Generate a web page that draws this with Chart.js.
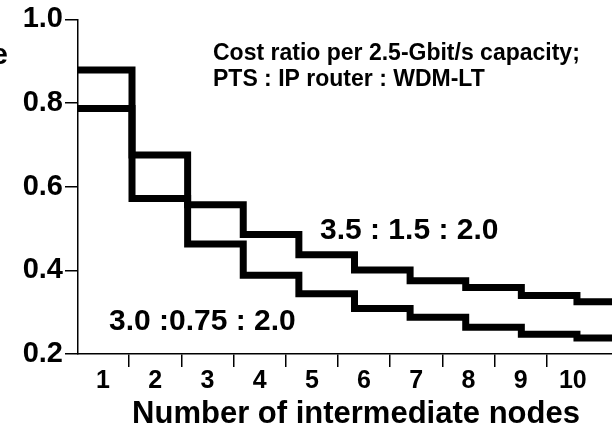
<!DOCTYPE html>
<html>
<head>
<meta charset="utf-8">
<script src="https://cdn.jsdelivr.net/npm/chart.js@4/dist/chart.umd.min.js"></script>
<style>
  html, body { margin: 0; padding: 0; background: #fff; }
  #wrap { width: 612px; height: 428px; overflow: hidden; }
</style>
</head>
<body>
<div id="wrap"><canvas id="c" width="612" height="428"></canvas></div>
<script>
// ---- data ----
const nodes = [1, 2, 3, 4, 5, 6, 7, 8, 9, 10];
const ratioHigh = [0.879, 0.676, 0.557, 0.486, 0.437, 0.401, 0.375, 0.359, 0.340, 0.325]; // 3.5 : 1.5 : 2.0
const ratioLow  = [0.787, 0.572, 0.463, 0.388, 0.344, 0.309, 0.288, 0.264, 0.247, 0.238]; // 3.0 : 0.75 : 2.0
const yTicks = [0.2, 0.4, 0.6, 0.8, 1.0];
const xTitle = 'Number of intermediate nodes';
const noteLines = ['Cost ratio per 2.5-Gbit/s capacity;', 'PTS : IP router : WDM-LT'];
const labelHigh = '3.5 : 1.5 : 2.0';
const labelLow = '3.0 :0.75 : 2.0';
const yTitleTail = 'e';

const FONT = '"Liberation Sans", Arial, Helvetica, sans-serif';

// each step starts at the left edge of its node's interval and holds to the right
function stepPoints(vals) {
  const pts = nodes.map((n, i) => ({ x: n - 0.5, y: vals[i] }));
  const last = nodes[nodes.length - 1];
  pts.push({ x: last + 0.5, y: vals[vals.length - 1] });
  return pts;
}

const textPlugin = {
  id: 'texts',
  afterDraw(chart) {
    const ctx = chart.ctx;
    ctx.save();
    ctx.fillStyle = '#000';
    ctx.textBaseline = 'alphabetic';
    ctx.textAlign = 'left';
    ctx.font = 'bold 23px ' + FONT;
    ctx.fillText(noteLines[0], 213, 60);
    ctx.fillText(noteLines[1], 213, 86);
    ctx.font = 'bold 30px ' + FONT;
    ctx.fillText(labelHigh, 320, 239);
    ctx.fillText(labelLow, 109, 330);
    ctx.textAlign = 'right';
    ctx.fillText(yTitleTail, 8, 64);
    // x-axis title
    ctx.textAlign = 'center';
    ctx.font = 'bold 31px ' + FONT;
    ctx.fillText(xTitle, 356, 423);
    ctx.restore();
  }
};

new Chart(document.getElementById('c'), {
  type: 'line',
  data: {
    datasets: [
      {
        label: labelHigh,
        data: stepPoints(ratioHigh),
        xAxisID: 'xd',
        stepped: 'before',
        borderColor: '#000',
        borderWidth: 7,
        borderCapStyle: 'butt',
        borderJoinStyle: 'miter',
        pointRadius: 0,
        fill: false
      },
      {
        label: labelLow,
        data: stepPoints(ratioLow),
        xAxisID: 'xd',
        stepped: 'before',
        borderColor: '#000',
        borderWidth: 7,
        borderCapStyle: 'butt',
        borderJoinStyle: 'miter',
        pointRadius: 0,
        fill: false
      }
    ]
  },
  options: {
    responsive: false,
    animation: false,
    devicePixelRatio: 1,
    layout: { padding: { top: 16, right: 0, bottom: 0, left: 0 } },
    plugins: { legend: { display: false }, tooltip: { enabled: false } },
    scales: {
      xd: {
        type: 'linear',
        display: false,
        min: 0.529,
        max: 10.13
      },
      x: {
        type: 'linear',
        position: 'bottom',
        min: 0.52,
        max: 10.75,
        afterBuildTicks(scale) {
          const t = [];
          nodes.forEach(n => {
            t.push({ value: n });
            if (n < nodes[nodes.length - 1]) t.push({ value: n + 0.5 });
          });
          scale.ticks = t;
        },
        afterFit(scale) { scale.height = 74; },
        border: { display: true, color: '#000', width: 1.5 },
        grid: {
          drawOnChartArea: false,
          drawTicks: true,
          tickLength: 13,
          lineWidth: 1.5,
          color: (c) => (c.tick && Number.isInteger(c.tick.value)) ? 'rgba(0,0,0,0)' : '#000'
        },
        ticks: {
          autoSkip: false,
          maxRotation: 0,
          padding: -1,
          color: '#000',
          font: { family: FONT, size: 25, weight: 'bold' },
          callback: (v) => Number.isInteger(v) ? String(v) : ''
        },
        title: { display: false }
      },
      y: {
        type: 'linear',
        min: 0.2,
        max: 1.0,
        afterBuildTicks(scale) { scale.ticks = yTicks.map(v => ({ value: v })); },
        afterFit(scale) { scale.width = 78; },
        border: { display: true, color: '#000', width: 1.5 },
        grid: {
          drawOnChartArea: false,
          drawTicks: true,
          tickLength: 13,
          lineWidth: 1.5,
          color: '#000'
        },
        ticks: {
          padding: 2,
          color: '#000',
          font: { family: FONT, size: 29, weight: 'bold' },
          callback: (v) => Number(v).toFixed(1)
        }
      }
    }
  },
  plugins: [textPlugin]
});
</script>
</body>
</html>
